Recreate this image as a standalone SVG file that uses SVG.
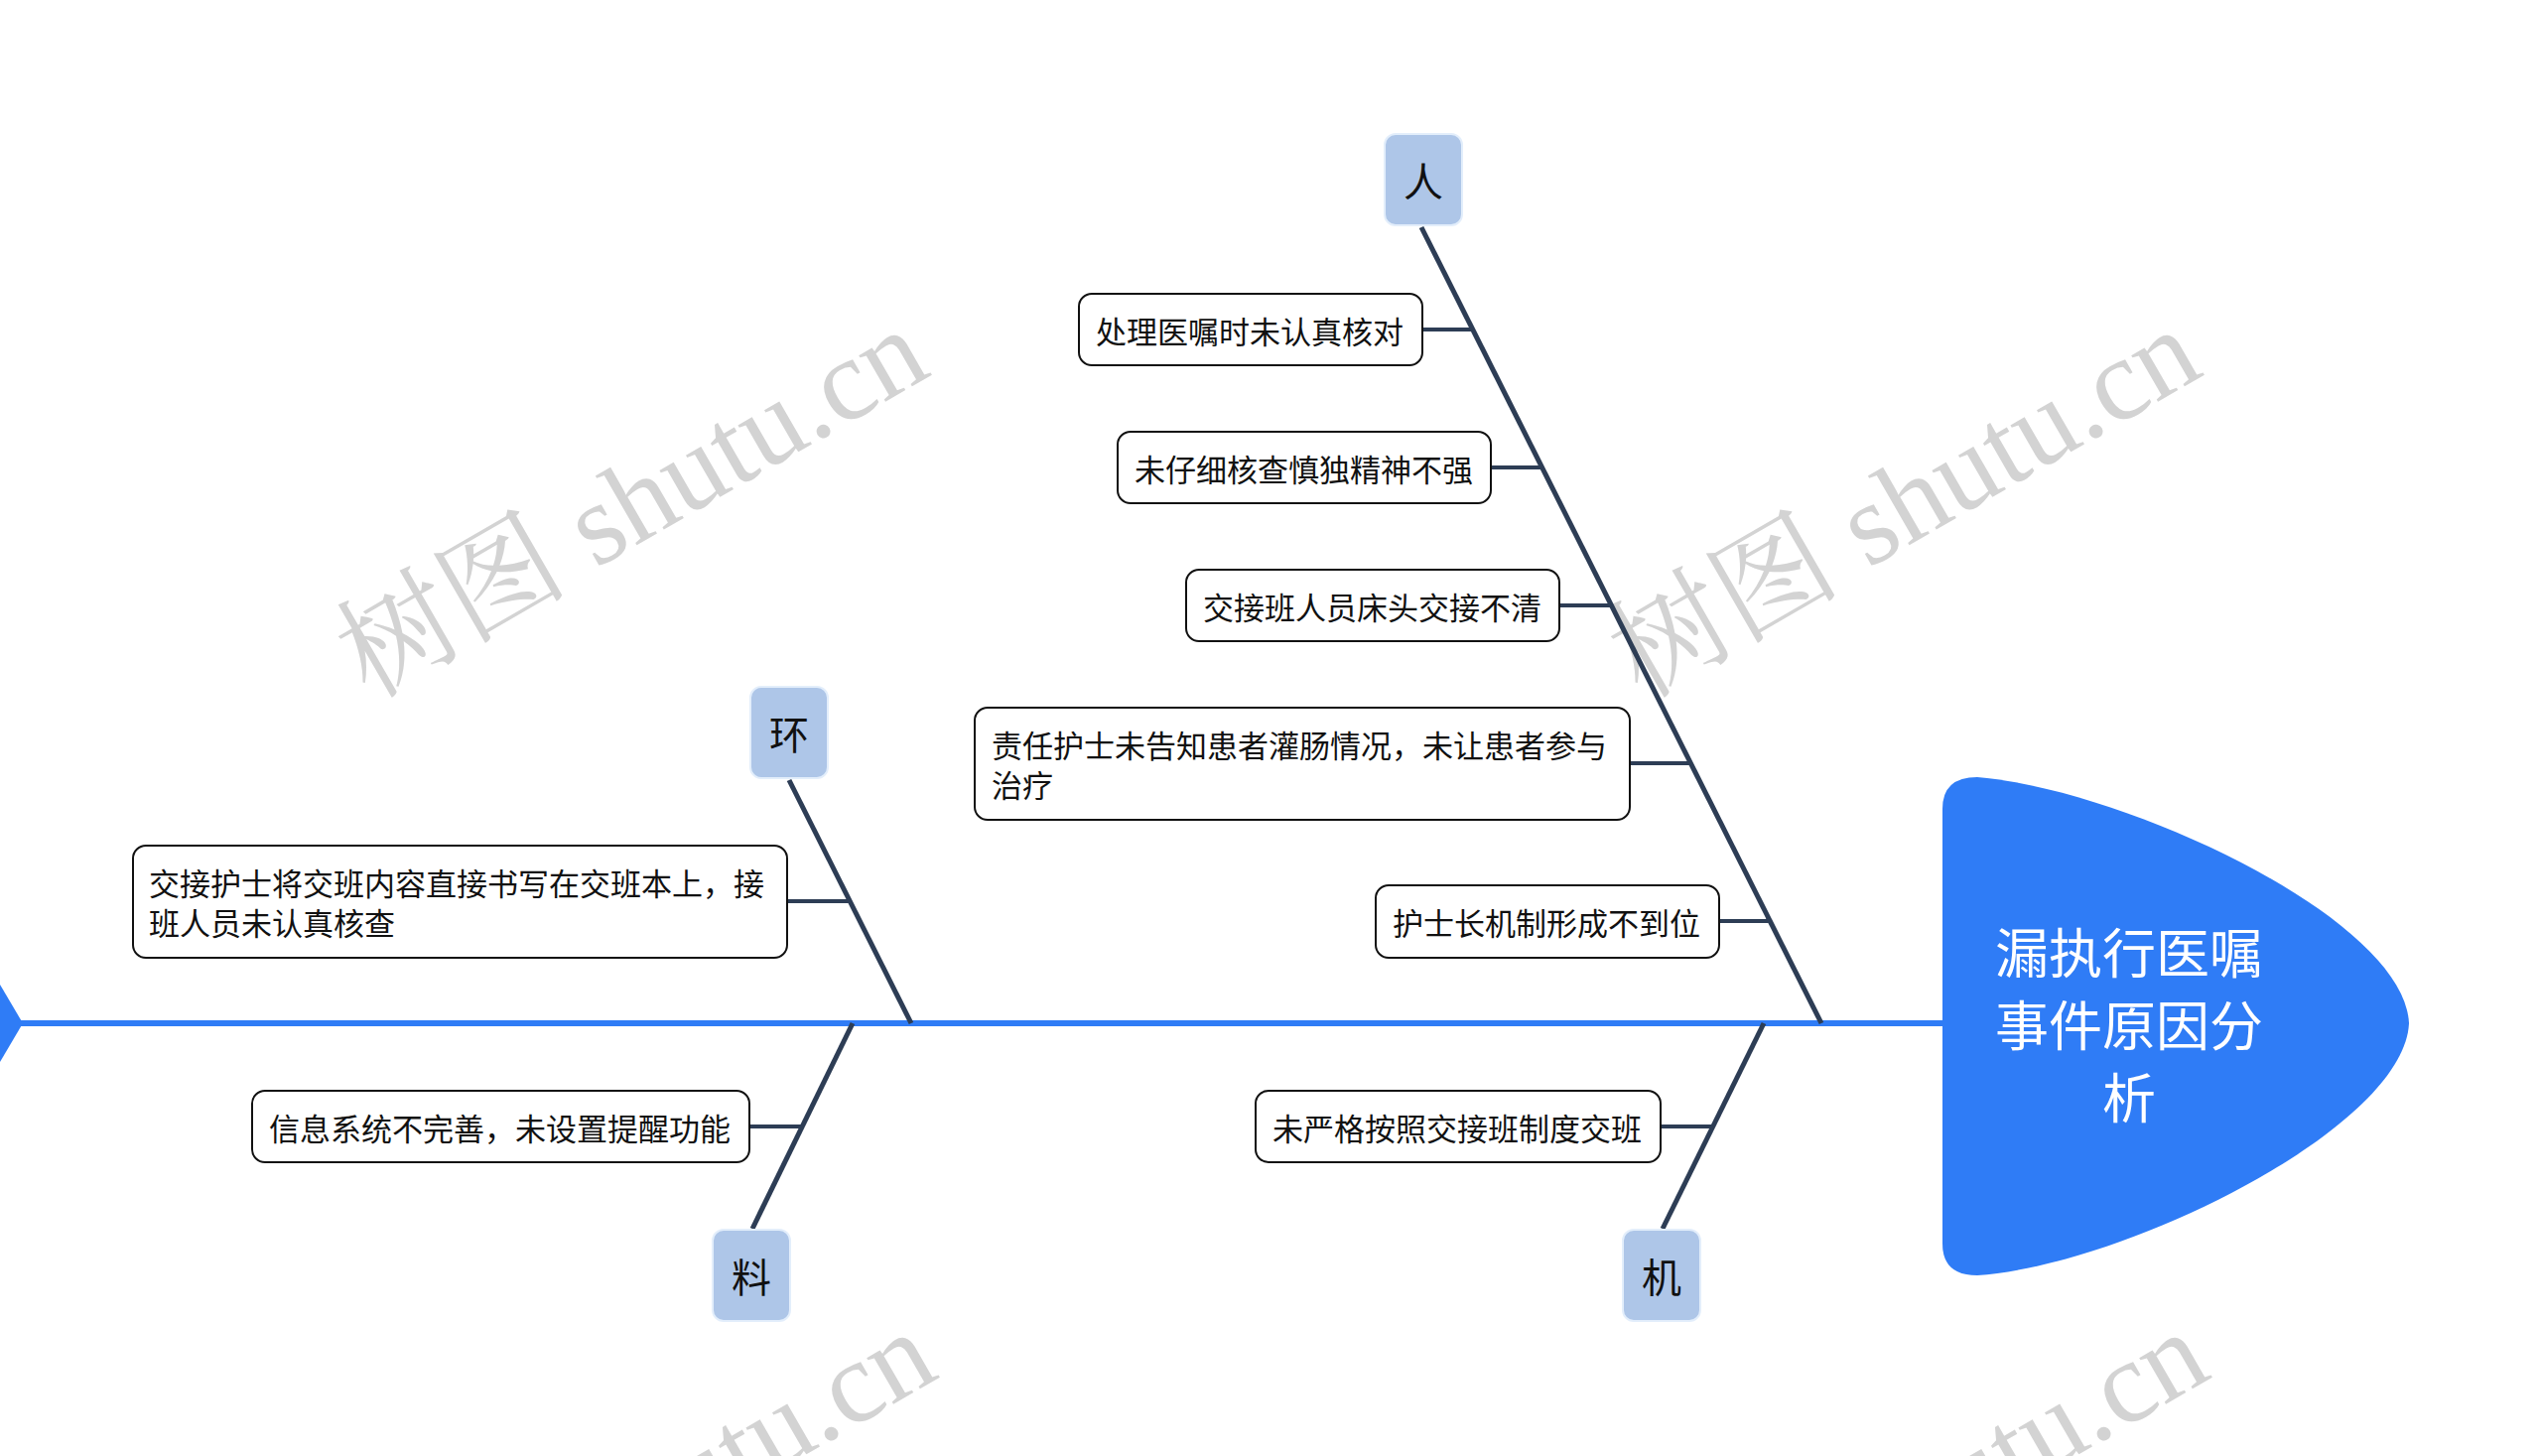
<svg xmlns="http://www.w3.org/2000/svg" width="2560" height="1467" viewBox="0 0 2560 1467">
<style>
.wm{font-family:"Liberation Serif","Noto Serif CJK SC","Noto Sans CJK SC",serif;font-size:117px;fill:#d3d3d3}
.bone{stroke:#2d3d55;stroke-width:5;fill:none;stroke-linecap:butt}
.twig{stroke:#2d3d55;stroke-width:4;fill:none}
.cat rect{fill:#aec6e8;stroke:#e3eefb;stroke-width:2}
.cat text{font-family:"Noto Sans CJK SC",sans-serif;font-size:40px;fill:#111;text-anchor:middle;dominant-baseline:central}
.box rect{fill:#fff;stroke:#111;stroke-width:2}
.box text{font-family:"Noto Sans CJK SC",sans-serif;font-size:31px;fill:#111;dominant-baseline:central}
.head text{font-family:"Noto Sans CJK SC",sans-serif;font-size:54px;fill:#fff;text-anchor:middle;dominant-baseline:central}
</style>
<rect width="2560" height="1467" fill="#fff"/>
<g id="watermarks">
<text class="wm" transform="translate(372,705) rotate(-30)">树图 shutu.cn</text>
<text class="wm" transform="translate(1654,705) rotate(-30)">树图 shutu.cn</text>
<text class="wm" transform="translate(380,1715) rotate(-30)">树图 shutu.cn</text>
<text class="wm" transform="translate(1662,1715) rotate(-30)">树图 shutu.cn</text>
</g>
<g id="connectors">
<path d="M0,992 L23,1031 L0,1070 Z" fill="#2f7cf6"/>
<line x1="18" y1="1031" x2="1962" y2="1031" stroke="#2f7cf6" stroke-width="6"/>
<line class="bone" x1="1432" y1="229" x2="1835" y2="1031"/>
<line class="bone" x1="795" y1="786" x2="918" y2="1031"/>
<line class="bone" x1="859" y1="1031" x2="758" y2="1238"/>
<line class="bone" x1="1777" y1="1031" x2="1675" y2="1238"/>
<line class="twig" x1="1433" y1="332" x2="1484" y2="332"/>
<line class="twig" x1="1502" y1="471" x2="1554" y2="471"/>
<line class="twig" x1="1571" y1="610" x2="1624" y2="610"/>
<line class="twig" x1="1642" y1="769" x2="1704" y2="769"/>
<line class="twig" x1="1732" y1="928" x2="1784" y2="928"/>
<line class="twig" x1="793" y1="908" x2="857" y2="908"/>
<line class="twig" x1="755" y1="1135" x2="809" y2="1135"/>
<line class="twig" x1="1673" y1="1135" x2="1726" y2="1135"/>
</g>
<g id="head" class="head">
<path d="M1957,815 Q1957,783 1992,783 C2140,795 2422,925 2427,1031 C2422,1137 2140,1275 1992,1285 Q1957,1285 1957,1253 Z" fill="#2f7cf6"/>
<text x="2145" y="957">漏执行医嘱</text>
<text x="2145" y="1030">事件原因分</text>
<text x="2145" y="1103">析</text>
</g>
<g id="cat-ren" class="cat"><rect x="1395" y="135" width="78" height="92" rx="11"/><text x="1434" y="181">人</text></g>
<g id="cat-huan" class="cat"><rect x="756" y="692" width="78" height="92" rx="11"/><text x="795" y="738">环</text></g>
<g id="cat-liao" class="cat"><rect x="718" y="1239" width="78" height="92" rx="11"/><text x="757" y="1285">料</text></g>
<g id="cat-ji" class="cat"><rect x="1635" y="1239" width="78" height="92" rx="11"/><text x="1674" y="1285">机</text></g>
<g id="n1" class="box"><rect x="1087" y="296" width="346" height="72" rx="13"/><text x="1104" y="332">处理医嘱时未认真核对</text></g>
<g id="n2" class="box"><rect x="1126" y="435" width="376" height="72" rx="13"/><text x="1143" y="471">未仔细核查慎独精神不强</text></g>
<g id="n3" class="box"><rect x="1195" y="574" width="376" height="72" rx="13"/><text x="1212" y="610">交接班人员床头交接不清</text></g>
<g id="n4" class="box"><rect x="982" y="713" width="660" height="113" rx="13"/><text x="999" y="749.5">责任护士未告知患者灌肠情况，未让患者参与</text><text x="999" y="789.5">治疗</text></g>
<g id="n5" class="box"><rect x="1386" y="892" width="346" height="73" rx="13"/><text x="1403" y="928">护士长机制形成不到位</text></g>
<g id="n6" class="box"><rect x="134" y="852" width="659" height="113" rx="13"/><text x="150" y="888">交接护士将交班内容直接书写在交班本上，接</text><text x="150" y="928">班人员未认真核查</text></g>
<g id="n7" class="box"><rect x="254" y="1099" width="501" height="72" rx="13"/><text x="271" y="1135">信息系统不完善，未设置提醒功能</text></g>
<g id="n8" class="box"><rect x="1265" y="1099" width="408" height="72" rx="13"/><text x="1282" y="1135">未严格按照交接班制度交班</text></g>
</svg>
